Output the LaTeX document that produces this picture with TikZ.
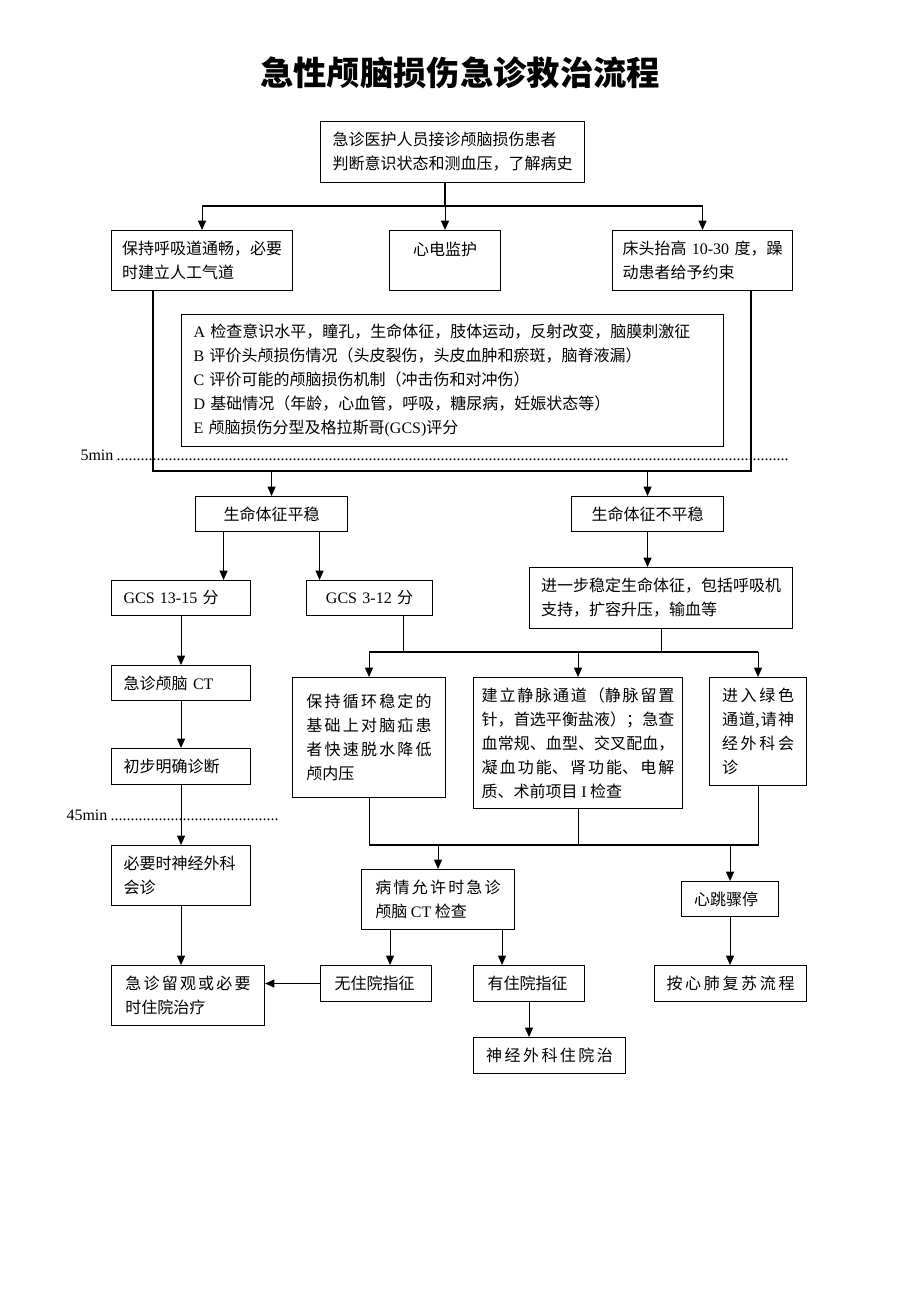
\documentclass[tikz,border=0pt]{standalone}
\usepackage{fontspec}
\setmainfont{Noto Sans CJK SC}
\newfontfamily\lat{Liberation Serif}
\usetikzlibrary{arrows.meta,positioning}

\begin{document}
\begin{tikzpicture}[x=0.75pt,y=-0.75pt,line width=0.8pt,
    >={Triangle[length=7pt,width=6pt]},
    box/.style={draw, anchor=north west, inner sep=0pt, align=left,
      font={\fontsize{12}{18}\selectfont}},
    mid/.style={box, align=center},
    spread/.style={box, align=justify,
      font={\fontsize{12}{18}\selectfont\XeTeXlinebreaklocale "zh"\XeTeXlinebreakskip=0pt plus 3pt\relax}},
    oneline/.style={spread, execute at begin node={\parfillskip=0pt\relax}},
    timeline/.style={anchor=base west, inner sep=0pt, font={\lat\fontsize{12}{14}\selectfont}}]
  \useasboundingbox (0,0) rectangle (920,1302);
  \node[font={\fontsize{25}{30}\selectfont\bfseries}] (title) at (460,73) {急性颅脑损伤急诊救治流程};

  \node[box, minimum width=198pt, minimum height=45.75pt, text width=180pt] (top) at (320,121)
    {急诊医护人员接诊颅脑损伤患者\\判断意识状态和测血压，了解病史};
  \node[box, minimum width=135.75pt, minimum height=45pt, text width=120pt] (b1) at (111,230)
    {保持呼吸道通畅，必要\\时建立人工气道};
  \node[mid, minimum width=83.25pt, minimum height=45pt, text width=60pt] (b2) at (389,230)
    {心电监护\\\mbox{}};
  \node[box, minimum width=135pt, minimum height=45pt, text width=120pt] (b3) at (612,230)
    {床头抬高 {\lat 10-30} 度，躁\\动患者给予约束};
  \node[box, minimum width=406.5pt, minimum height=99pt, text width=388.5pt] (assess) at (181,314)
    {{\lat A} 检查意识水平，瞳孔，生命体征，肢体运动，反射改变，脑膜刺激征\\
     {\lat B} 评价头颅损伤情况（头皮裂伤，头皮血肿和瘀斑，脑脊液漏）\\
     {\lat C} 评价可能的颅脑损伤机制（冲击伤和对冲伤）\\
     {\lat D} 基础情况（年龄，心血管，呼吸，糖尿病，妊娠状态等）\\
     {\lat E} 颅脑损伤分型及格拉斯哥{\lat (GCS)}评分};
  \node[timeline] (min5) at (80,460) {\hbox to 532pt{5min\leaders\hbox to 3pt{\hss.\hss}\hfill}};

  \node[mid, minimum width=114pt, minimum height=26.25pt, text width=100pt] (pw) at (195,496) {生命体征平稳};
  \node[mid, minimum width=114pt, minimum height=26.25pt, text width=100pt] (npw) at (571,496) {生命体征不平稳};
  \node[box, minimum width=104.25pt, minimum height=26.25pt, text width=86.25pt] (g1) at (111,580) {{\lat GCS 13-15} 分};
  \node[mid, minimum width=94.5pt, minimum height=26.25pt, text width=80pt] (g2) at (306,580) {{\lat GCS 3-12} 分};
  \node[box, minimum width=197.25pt, minimum height=45.75pt, text width=180pt] (stab) at (529,567)
    {进一步稳定生命体征，包括呼吸机\\支持，扩容升压，输血等};

  \node[box, minimum width=104.25pt, minimum height=26.25pt, text width=86pt] (ct1) at (111,665) {急诊颅脑 {\lat CT}};
  \node[box, minimum width=104.25pt, minimum height=27pt, text width=86pt] (diag) at (111,748) {初步明确诊断};
  \node[timeline] (min45) at (66,820) {\hbox to 160pt{45min\leaders\hbox to 3pt{\hss.\hss}\hfill}};
  \node[box, minimum width=104.25pt, minimum height=45pt, text width=86pt] (cons) at (111,845) {必要时神经外科\\会诊};
  \node[spread, minimum width=114.75pt, minimum height=45pt, text width=94pt] (obs) at (111,965) {急诊留观或必要时住院治疗};

  \node[spread, minimum width=114.75pt, minimum height=90pt, text width=94pt] (circ) at (292,677)
    {保持循环稳定的基础上对脑疝患者快速脱水降低颅内压};
  \node[spread, minimum width=156.75pt, minimum height=98.25pt, text width=144.5pt] (vein) at (473,677)
    {建立静脉通道（静脉留置\linebreak 针，首选平衡盐液）；急查\linebreak 血常规、血型、交叉配血，\linebreak
     凝血功能、肾功能、电解\linebreak 质、术前项目 {\lat I} 检查};
  \node[spread, minimum width=72.75pt, minimum height=81pt, text width=54pt] (green) at (709,677)
    {进入绿色通道,请神经外科会诊};

  \node[spread, minimum width=114.75pt, minimum height=45pt, text width=94pt] (ctchk) at (361,869)
    {病情允许时急诊颅脑 {\lat CT} 检查};
  \node[box, minimum width=72.75pt, minimum height=26.25pt, text width=54pt] (arrest) at (681,881) {心跳骤停};
  \node[box, minimum width=83.25pt, minimum height=27pt, text width=62pt] (no) at (320,965) {无住院指征};
  \node[box, minimum width=83.25pt, minimum height=27pt, text width=62pt] (yes) at (473,965) {有住院指征};
  \node[oneline, minimum width=114pt, minimum height=27pt, text width=96pt] (cpr) at (654,965) {按心肺复苏流程};
  \node[oneline, minimum width=114pt, minimum height=27pt, text width=95pt] (ward) at (473,1037) {神经外科住院治};

  % first split
  \coordinate (bus1) at (445,206);
  \draw (top.south -| bus1) -- (bus1);
  \draw (b1.north |- bus1) -- (b3.north |- bus1);
  \draw[->] (b1.north |- bus1) -- (b1.north);
  \draw[->] (b2.north |- bus1) -- (b2.north);
  \draw[->] (b3.north |- bus1) -- (b3.north);

  % assessment frame
  \coordinate (frameL) at (153,471);
  \coordinate (frameR) at (751,471);
  \draw (b1.south -| frameL) -- (frameL) -- (frameR) -- (b3.south -| frameR);
  \draw[->] (frameL -| pw.north) -- (pw.north);
  \draw[->] (frameL -| npw.north) -- (npw.north);

  \draw[->] ([xshift=-36pt]pw.south) -- ([xshift=-36pt]pw.south |- g1.north);
  \draw[->] ([xshift=36pt]pw.south) -- ([xshift=36pt]pw.south |- g2.north);
  \draw[->] (npw.south) -- (npw.south |- stab.north);

  % left column
  \draw[->] (g1.south) -- (ct1.north);
  \draw[->] (ct1.south) -- (diag.north);
  \draw[->] (diag.south) -- (cons.north);
  \draw[->] (cons.south) -- (cons.south |- obs.north);

  % second split
  \coordinate (bus2) at (570,652);
  \draw ([xshift=25.5pt]g2.south) -- ([xshift=25.5pt]g2.south |- bus2);
  \draw (stab.south) -- (stab.south |- bus2);
  \draw (circ.north |- bus2) -- (green.north |- bus2);
  \draw[->] (circ.north |- bus2) -- (circ.north);
  \draw[->] (vein.north |- bus2) -- (vein.north);
  \draw[->] (green.north |- bus2) -- (green.north);

  % join
  \coordinate (bus3) at (570,845);
  \draw (circ.south) -- (circ.south |- bus3) -- (green.south |- bus3) -- (green.south);
  \draw (vein.south) -- (vein.south |- bus3);
  \draw[->] (ctchk.north |- bus3) -- (ctchk.north);
  \draw[->] (arrest.north |- bus3) -- (arrest.north);

  \draw[->] ([xshift=-36pt]ctchk.south) -- ([xshift=-36pt]ctchk.south |- no.north);
  \draw[->] ([xshift=48pt]ctchk.south) -- ([xshift=48pt]ctchk.south |- yes.north);
  \draw[->] (no.west) -- (no.west -| obs.east);
  \draw[->] (yes.south) -- (yes.south |- ward.north);
  \draw[->] (arrest.south) -- (arrest.south |- cpr.north);
\end{tikzpicture}
\end{document}
